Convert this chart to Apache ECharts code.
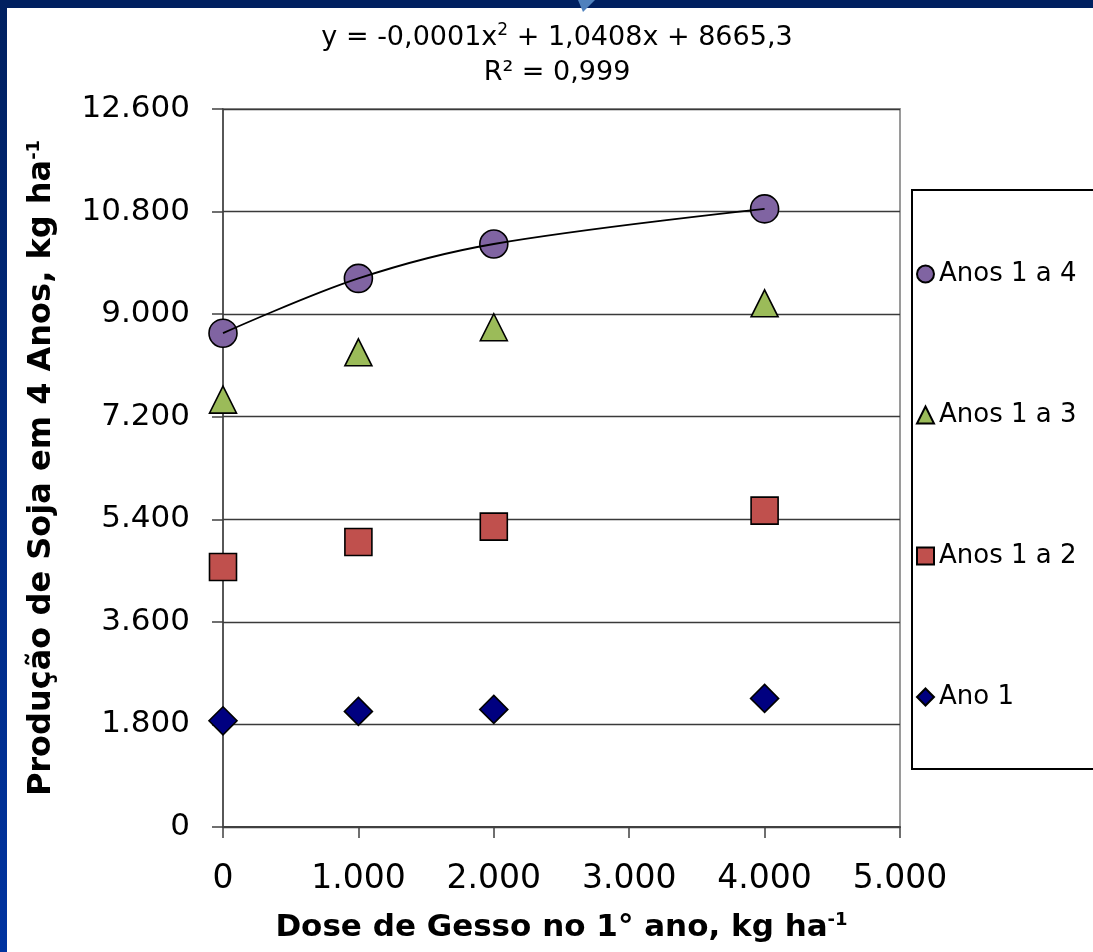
<!DOCTYPE html>
<html>
<head>
<meta charset="utf-8">
<script src="https://cdn.jsdelivr.net/npm/echarts@6/dist/echarts.min.js"></script>
<style>
html, body { margin: 0; padding: 0; background: #fff; }
#chart { width: 1093px; height: 952px; }
</style>
</head>
<body>
<div id="chart"></div>
<script>
// doses de gesso no 1o ano (kg/ha)
const doses = [0, 1000, 2000, 4000];
// producao acumulada de soja (kg/ha)
const ano1 = [1864, 2029, 2064, 2257];
const anos12 = [4562, 5001, 5271, 5552];
const anos13 = [7500, 8330, 8770, 9190];
const anos14 = [8666, 9627, 10231, 10847];
// ticks dos eixos
const yTicks = [0, 1800, 3600, 5400, 7200, 9000, 10800, 12600];
const xTicks = [0, 1000, 2000, 3000, 4000, 5000];

const FONT = "DejaVu Sans";

function fmt(v) {
  return String(v).replace(/\B(?=(\d{3})+(?!\d))/g, ".");
}
function pares(ys) {
  return doses.map((x, i) => [x, ys[i]]);
}

const chart = echarts.init(document.getElementById("chart"));

const option = {
  backgroundColor: "#fff",
  animation: false,
  title: {
    text: "{t|y = -0,0001x}{sup|2}{t| + 1,0408x + 8665,3}\n{t|R² = 0,999}",
    left: 552,
    textAlign: "center",
    top: 15,
    textStyle: {
      fontWeight: "normal",
      rich: {
        t: { fontFamily: FONT, fontSize: 27, fontWeight: "normal", color: "#000", lineHeight: 35 },
        sup: { fontFamily: FONT, fontSize: 17, fontWeight: "normal", color: "#000", padding: [0, 0, 14, 0] }
      }
    }
  },
  legend: {
    orient: "vertical",
    left: 916,
    top: 260,
    padding: 0,
    itemGap: 113,
    itemWidth: 17,
    itemHeight: 17,
    z: 10,
    data: ["Anos 1 a 4", "Anos 1 a 3", "Anos 1 a 2", "Ano 1"],
    textStyle: { fontFamily: FONT, fontSize: 26, color: "#000", lineHeight: 28 }
  },
  grid: {
    left: 223, top: 109, width: 677, height: 718,
    show: true, borderColor: "#9a9a9a", borderWidth: 2
  },
  xAxis: {
    type: "value",
    min: xTicks[0],
    max: xTicks[xTicks.length - 1],
    interval: xTicks[1] - xTicks[0],
    name: "{b|Dose de Gesso no 1° ano, kg ha}{s|-1}",
    nameLocation: "middle",
    nameGap: 84,
    nameTextStyle: {
      rich: {
        b: { fontFamily: FONT, fontSize: 31, fontWeight: "bold", color: "#000" },
        s: { fontFamily: FONT, fontSize: 18, fontWeight: "bold", color: "#000", padding: [0, 0, 15, 0] }
      }
    },
    axisLine: { lineStyle: { color: "#404040", width: 2 } },
    axisTick: { show: true, length: 11, lineStyle: { color: "#404040", width: 1.5 } },
    axisLabel: { fontFamily: FONT, fontSize: 33, color: "#000", margin: 36, formatter: fmt },
    splitLine: { show: false }
  },
  yAxis: {
    type: "value",
    min: yTicks[0],
    max: yTicks[yTicks.length - 1],
    interval: yTicks[1] - yTicks[0],
    name: "{b|Produção de Soja em 4 Anos, kg ha}{s|-1}",
    nameLocation: "middle",
    nameRotate: 90,
    nameGap: 165,
    nameTextStyle: {
      rich: {
        b: { fontFamily: FONT, fontSize: 32, fontWeight: "bold", color: "#000" },
        s: { fontFamily: FONT, fontSize: 18, fontWeight: "bold", color: "#000", padding: [0, 0, 15, 0] }
      }
    },
    axisLine: { show: true, lineStyle: { color: "#404040", width: 1.5 } },
    axisTick: { show: true, length: 11, lineStyle: { color: "#404040", width: 1.5 } },
    axisLabel: { fontFamily: FONT, fontSize: 31, color: "#000", margin: 33, formatter: fmt },
    splitLine: { show: true, lineStyle: { color: "#3a3a3a", width: 1.3 } }
  },
  series: [
    {
      name: "Anos 1 a 4", type: "scatter", symbol: "circle", symbolSize: 28, z: 2,
      itemStyle: { color: "#8064A2", borderColor: "#000", borderWidth: 1.6, opacity: 1 },
      data: pares(anos14)
    },
    {
      name: "Anos 1 a 3", type: "scatter", symbol: "triangle", symbolSize: 27, z: 2,
      itemStyle: { color: "#9BBB59", borderColor: "#000", borderWidth: 1.6, opacity: 1 },
      data: pares(anos13)
    },
    {
      name: "Anos 1 a 2", type: "scatter", symbol: "rect", symbolSize: 27, z: 2,
      itemStyle: { color: "#C0504D", borderColor: "#000", borderWidth: 1.6, opacity: 1 },
      data: pares(anos12)
    },
    {
      name: "Ano 1", type: "scatter", symbol: "diamond", symbolSize: 28, z: 2,
      itemStyle: { color: "#000080", borderColor: "#000", borderWidth: 1.6, opacity: 1 },
      data: pares(ano1)
    },
    {
      // linha de tendencia (Anos 1 a 4)
      name: "tendencia", type: "line", smooth: 0.35, symbol: "none", z: 3,
      lineStyle: { color: "#000", width: 1.8 },
      data: pares(anos14)
    }
  ],
  graphic: [
    { type: "rect", shape: { x: 0, y: 0, width: 1093, height: 8 }, style: { fill: "#002060" } },
    {
      type: "rect", shape: { x: 0, y: 0, width: 7, height: 952 },
      style: {
        fill: new echarts.graphic.LinearGradient(0, 0, 0, 1, [
          { offset: 0, color: "#002060" }, { offset: 1, color: "#0033a0" }
        ])
      }
    },
    { type: "polygon", shape: { points: [[578, 0], [595, 0], [583, 12]] }, style: { fill: "#4f81bd" } },
    {
      type: "rect", z: -1,
      shape: { x: 912, y: 190, width: 200, height: 579 },
      style: { fill: "#fff", stroke: "#000", lineWidth: 2 }
    }
  ]
};

chart.setOption(option);
window.addEventListener("resize", () => {
  chart.resize();
});
</script>
</body>
</html>
